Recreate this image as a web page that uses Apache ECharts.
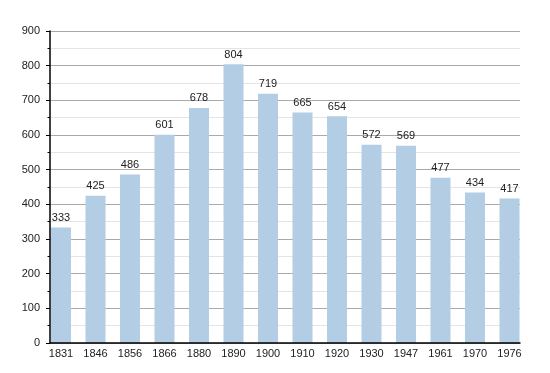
<!DOCTYPE html>
<html><head><meta charset="utf-8">
<script src="https://cdn.jsdelivr.net/npm/echarts@6/dist/echarts.min.js"></script>
<style>html,body{margin:0;padding:0;background:#fff}#c{width:550px;height:373px}</style>
</head><body><div id="c"></div>
<script>
const years = ['1831','1846','1856','1866','1880','1890','1900','1910','1920','1930','1947','1961','1970','1976'];
const population = [333,425,486,601,678,804,719,665,654,572,569,477,434,417];
const yTicks = {min:0, max:900, interval:100};
const chart = echarts.init(document.getElementById('c'));
const font = 'Liberation Sans, Arial, sans-serif';
chart.setOption({
  animation:false,
  grid:[
    {left:50, right:30, top:31, bottom:30},
    {left:43.75, right:23.25, top:31, bottom:30}
  ],
  xAxis:[
    {gridIndex:0, type:'value', min:0, max:1, show:true, z:10,
     axisLine:{show:true, onZero:false, lineStyle:{color:'#000', width:1.5}},
     axisTick:{show:false}, axisLabel:{show:false}, splitLine:{show:false}},
    {gridIndex:1, type:'category', data:years,
     axisLine:{show:false}, axisTick:{show:false},
     axisLabel:{color:'#222', fontSize:11, fontFamily:font, margin:5}}
  ],
  yAxis:[
    {gridIndex:0, type:'value', min:yTicks.min, max:yTicks.max, interval:yTicks.interval,
     axisLine:{show:true, lineStyle:{color:'#000', width:1.5}},
     axisTick:{show:true, length:4, lineStyle:{color:'#000'}},
     minorTick:{show:true, splitNumber:2, length:2.5, lineStyle:{color:'#000'}},
     axisLabel:{color:'#222', fontSize:11, fontFamily:font, margin:10},
     splitLine:{show:true, lineStyle:{color:'#aaaaaa', width:1}},
     minorSplitLine:{show:true, lineStyle:{color:'#e4e4e4', width:1}}},
    {gridIndex:1, type:'value', min:yTicks.min, max:yTicks.max, show:false, splitLine:{show:false}}
  ],
  series:[{
    type:'bar', xAxisIndex:1, yAxisIndex:1, data:population, barWidth:20, z:2,
    itemStyle:{color:'#b3cde4'},
    label:{show:true, position:'top', color:'#222', fontSize:11, fontFamily:font, distance:4}
  }]
});
</script></body></html>
